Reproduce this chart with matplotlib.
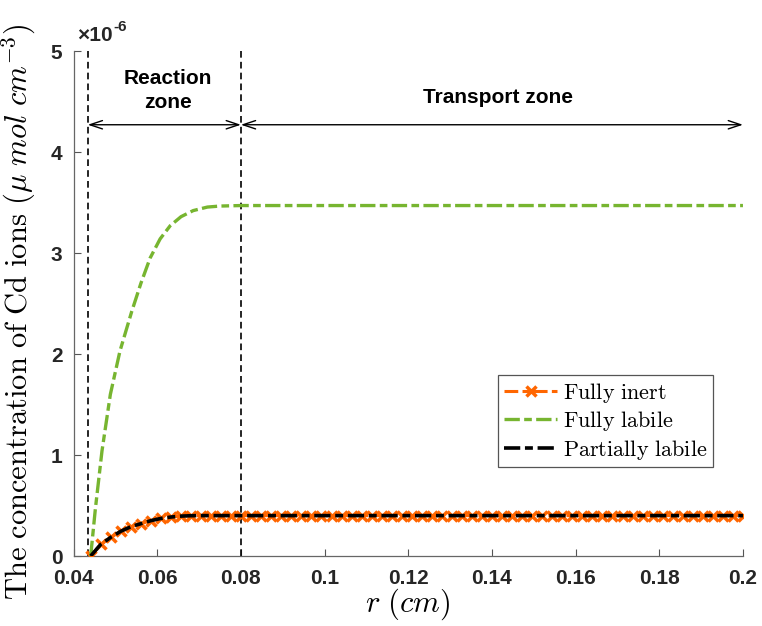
import numpy as np
import matplotlib
matplotlib.use("Agg")
import matplotlib.pyplot as plt

plt.rcParams['mathtext.fontset'] = 'cm'

# ---- data (concentrations in units of 1e-6 umol/cm^3) ----
r_grid = np.linspace(0.0441, 0.2, 66)   # sampling grid of the inert / partial curves
inert_c = [0.0, 0.115, 0.185, 0.245, 0.29, 0.32, 0.35, 0.372, 0.386, 0.395, 0.399] + [0.40] * 55
partial_c = list(inert_c)

labile_r = [0.0441, 0.0452, 0.0468, 0.0488, 0.0511, 0.0539, 0.0561, 0.0583,
            0.0607, 0.0631, 0.0657, 0.0686, 0.0720, 0.0750, 0.0800, 0.2000]
labile_c = [0.0, 0.46, 1.04, 1.60, 2.03, 2.42, 2.70, 2.95,
            3.14, 3.27, 3.36, 3.42, 3.455, 3.465, 3.47, 3.47]

zone_edges = [0.0434, 0.08, 0.2]
xticks = [0.04, 0.06, 0.08, 0.1, 0.12, 0.14, 0.16, 0.18, 0.2]
xtick_labels = ['0.04', '0.06', '0.08', '0.1', '0.12', '0.14', '0.16', '0.18', '0.2']
yticks = [0, 1, 2, 3, 4, 5]

ORANGE = '#FF6600'
GREEN = '#77B530'
AXC = '#262626'
SANS = 'Liberation Sans'

fig = plt.figure(figsize=(7.62, 6.26), dpi=100)
ax = fig.add_axes([0.0965, 0.1118, 0.8785, 0.8067])

ax.plot(r_grid, inert_c, color=ORANGE, lw=2.2, dashes=(4.5, 1.4, 2.3, 1.4),
        marker='x', ms=7, mew=2.5, label=r'$\mathrm{Fully\ inert}$', zorder=3)
ax.plot(labile_r, labile_c, color=GREEN, lw=2.4, dashes=(4.6, 1.3, 2.3, 1.3),
        label=r'$\mathrm{Fully\ labile}$', zorder=4)
ax.plot(r_grid, partial_c, color='black', lw=2.6, dashes=(4.5, 1.3, 2.2, 1.3),
        label=r'$\mathrm{Partially\ labile}$', zorder=5)

# zone boundaries
for xv in zone_edges[:2]:
    ax.plot([xv, xv], [0, 5], color='black', lw=1.2, dashes=(4, 2.5), zorder=2)

# zone arrows
arrow_y = 4.27
for x0, x1 in zip(zone_edges[:-1], zone_edges[1:]):
    ax.annotate('', xy=(x1, arrow_y), xytext=(x0, arrow_y),
                arrowprops=dict(arrowstyle='<->,head_length=0.9,head_width=0.3',
                                color='black', lw=1.0, shrinkA=0, shrinkB=0))
ax.text(0.0626, 4.61, 'Reaction\nzone', ha='center', va='center', fontsize=15,
        fontweight='bold', family=SANS, linespacing=1.3)
ax.text(0.1414, 4.54, 'Transport zone', ha='center', va='center', fontsize=15,
        fontweight='bold', family=SANS)

ax.set_xlim(0.04, 0.2)
ax.set_ylim(0, 5)
ax.set_xticks(xticks)
ax.set_xticklabels(xtick_labels)
ax.set_yticks(yticks)
for lab in ax.get_xticklabels() + ax.get_yticklabels():
    lab.set_fontweight('bold')
    lab.set_family(SANS)
    lab.set_fontsize(15)
    lab.set_color(AXC)
ax.tick_params(direction='in', length=5, width=0.8, colors='#555555')
ax.tick_params(axis='x', pad=9, labelcolor=AXC)
ax.tick_params(axis='y', pad=8, labelcolor=AXC)
ax.spines['top'].set_visible(False)
ax.spines['right'].set_visible(False)
for s in ('left', 'bottom'):
    ax.spines[s].set_color('#666666')
    ax.spines[s].set_linewidth(0.9)

# exponent marker
t1 = ax.text(0.006, 1.012, '×10', transform=ax.transAxes, fontsize=15,
             fontweight='bold', family=SANS, color=AXC, ha='left', va='bottom')
ax.annotate('-6', xy=(1, 0.6), xycoords=t1, fontsize=11, fontweight='bold',
            family=SANS, color=AXC, ha='left', va='bottom')

ax.set_xlabel(r'$r\ (cm)$', fontsize=22)
ax.xaxis.set_label_coords(0.5, -0.06)
ax.set_ylabel(r'$\mathrm{The\ concentration\ of\ Cd\ ions}\ (\mu\ mol\ cm^{-3})$',
              fontsize=22)
ax.yaxis.set_label_coords(-0.053, 0.483)

leg = ax.legend(loc='lower right', bbox_to_anchor=(0.955, 0.176), numpoints=1,
                prop={'size': 16}, fancybox=False,
                handlelength=2.4, handletextpad=0.25, borderpad=0.25,
                labelspacing=0.2, borderaxespad=0)
leg.get_frame().set_edgecolor('#555555')
leg.get_frame().set_linewidth(0.9)
leg.get_frame().set_alpha(1)

fig.savefig('out.png', dpi=100)
